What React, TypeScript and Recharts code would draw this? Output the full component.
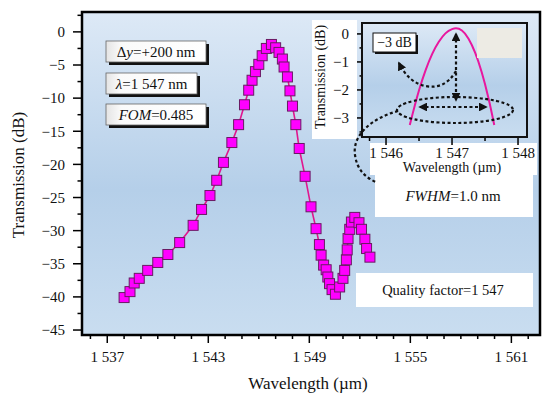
import React from "react";
import { CartesianGrid, Line, LineChart, XAxis, YAxis } from "recharts";

// main spectrum
const wavelength = [
  1538.0, 1538.35, 1538.6, 1538.9, 1539.4, 1540.0, 1540.6, 1541.3, 1542.1, 1542.6,
  1543.1, 1543.5, 1543.9, 1544.4, 1544.8, 1545.15, 1545.4, 1545.6, 1545.8, 1546.0,
  1546.2, 1546.45, 1546.75, 1547.0, 1547.2, 1547.4, 1547.5, 1547.7, 1547.85, 1548.0,
  1548.2, 1548.4, 1548.75, 1549.1, 1549.4, 1549.6, 1549.7, 1549.85, 1550.0, 1550.1,
  1550.2, 1550.35, 1550.55, 1550.8, 1551.0, 1551.1, 1551.2, 1551.25, 1551.3, 1551.4,
  1551.5, 1551.7, 1551.95, 1552.1, 1552.3, 1552.4, 1552.6,
];
const transmission = [
  -40.1, -39.2, -37.9, -37.2, -36.0, -34.8, -33.6, -31.8, -29.2, -26.8,
  -24.7, -22.4, -19.7, -16.7, -14.0, -11.0, -8.8, -7.3, -6.0, -4.9,
  -3.6, -2.5, -1.9, -2.4, -3.1, -4.1, -5.3, -6.8, -8.9, -11.2,
  -14.0, -17.6, -21.8, -26.4, -29.7, -32.1, -33.7, -35.2, -35.9, -37.0,
  -38.0, -38.9, -39.6, -38.5, -37.2, -36.0, -34.4, -32.9, -31.2, -29.8,
  -28.7, -28.0, -28.8, -29.8, -31.3, -32.7, -34.0,
];

// inset: zoom on the resonance peak
const insetWavelength = [
  1546.36, 1546.5, 1546.6, 1546.7, 1546.8, 1546.9, 1547.0, 1547.06,
  1547.15, 1547.25, 1547.35, 1547.45, 1547.55, 1547.64,
];
const insetTransmission = [
  -3.25, -2.01, -1.29, -0.71, -0.28, 0.02, 0.17, 0.2,
  0.12, -0.17, -0.67, -1.37, -2.27, -3.25,
];

const xMajor = [1537, 1543, 1549, 1555, 1561];
const yMajor = [0, -5, -10, -15, -20, -25, -30, -35, -40, -45];
const insetXMajor = [1546, 1547, 1548];
const insetYMajor = [0, -1, -2, -3];

const xTicks: number[] = [];
for (let v = 1536; v <= 1562; v++) xTicks.push(v);
const yTicks: number[] = [];
for (let v = 2.5; v >= -45; v -= 2.5) yTicks.push(v);
const insetXTicks = [1545.75, 1546, 1546.5, 1547, 1547.5, 1548];
const insetYTicks = [0, -0.5, -1, -1.5, -2, -2.5, -3, -3.5];

const mainData = wavelength.map((x, i) => ({ x, y: transmission[i] }));
const insetData = insetWavelength.map((x, i) => ({ x, y: insetTransmission[i] }));

const FONT = "'Liberation Serif', 'Times New Roman', serif";

const fmt = (v: number) => {
  const s = Math.abs(v).toString();
  const body = s.length === 4 ? s[0] + " " + s.slice(1) : s;
  return (v < 0 ? "\u2212" : "") + body;
};

function XTick(props: any) {
  const { x, y, payload, majors, size, dy } = props;
  const major = majors.includes(payload.value);
  return (
    <g>
      <line x1={x} x2={x} y1={y} y2={y + (major ? 8 : 4)} stroke="#000" strokeWidth={1.5} />
      {major && (
        <text x={x} y={y + dy} textAnchor="middle" fontFamily={FONT} fontSize={size} fill="#111">
          {fmt(payload.value)}
        </text>
      )}
    </g>
  );
}

function YTick(props: any) {
  const { x, y, payload, majors, size, len } = props;
  const major = majors.includes(payload.value);
  return (
    <g>
      <line x1={x} x2={x - (major ? len : len / 2)} y1={y} y2={y} stroke="#000" strokeWidth={1.5} />
      {major && (
        <text x={x - len - 8} y={y} dy="0.35em" textAnchor="end" fontFamily={FONT} fontSize={size} fill="#111">
          {fmt(payload.value)}
        </text>
      )}
    </g>
  );
}

const Square = (p: any) => (
  <rect
    key={p.index}
    x={p.cx - 5}
    y={p.cy - 5}
    width={10}
    height={10}
    fill="#ff00ff"
    stroke="#6a1a63"
    strokeWidth={1}
  />
);

function TextBox({ x, y, w, h, children }: any) {
  return (
    <g>
      <rect x={x + 3} y={y + 3} width={w} height={h} fill="#111" />
      <rect x={x} y={y} width={w} height={h} fill="url(#boxFill)" stroke="#666" strokeWidth={0.8} />
      <text x={x + w / 2} y={y + h / 2} dy="0.35em" textAnchor="middle" fontFamily={FONT} fontSize={15} fill="#111">
        {children}
      </text>
    </g>
  );
}

const bgStops = (
  <>
    <stop offset="0" stopColor="#dde9f6" />
    <stop offset="0.55" stopColor="#b5cfe9" />
    <stop offset="1" stopColor="#c9ddf0" />
  </>
);

export default function App() {
  return (
    <div style={{ position: "absolute", left: 0, top: 0, width: 543, height: 394, background: "#fff" }}>
      <LineChart width={543} height={394} data={mainData} margin={{ top: 12, right: 3, bottom: 0, left: 0 }}>
        <defs>
          <linearGradient id="bgMain" x1="0" y1="0" x2="0" y2="1">
            {bgStops}
          </linearGradient>
        </defs>
        <CartesianGrid horizontal={false} vertical={false} fill="url(#bgMain)" />
        <XAxis
          type="number"
          dataKey="x"
          domain={[1535.5, 1562.7]}
          ticks={xTicks}
          interval={0}
          height={59}
          tickSize={0}
          tickMargin={0}
          tickLine={false}
          axisLine={false}
          allowDataOverflow
          tick={(p: any) => <XTick {...p} majors={xMajor} size={15} dy={27} />}
        />
        <YAxis
          type="number"
          domain={[-45.75, 3]}
          ticks={yTicks}
          interval={0}
          width={82}
          tickSize={0}
          tickMargin={0}
          tickLine={false}
          axisLine={false}
          allowDataOverflow
          tick={(p: any) => <YTick {...p} majors={yMajor} size={15} len={9} />}
        />
        <Line
          type="linear"
          dataKey="y"
          stroke="#e0168f"
          strokeWidth={1.6}
          dot={Square}
          isAnimationActive={false}
        />
      </LineChart>

      {/* white panels behind the inset labels and notes */}
      <svg width={543} height={394} style={{ position: "absolute", left: 0, top: 0, pointerEvents: "none" }}>
        <rect x={312} y={20} width={45} height={119} fill="#fff" />
        <rect x={370} y={143} width={167} height={32} fill="#fff" />
        <rect x={375} y={175} width={158} height={42} fill="#fff" />
        <rect x={356} y={273} width={177} height={34} fill="#fff" />
      </svg>

      <div style={{ position: "absolute", left: 312, top: 20 }}>
        <LineChart width={228} height={180} data={insetData} margin={{ top: 3, right: 13, bottom: 0, left: 0 }}>
          <defs>
            <linearGradient id="bgInset" x1="0" y1="0" x2="0" y2="1">
              {bgStops}
            </linearGradient>
          </defs>
          <CartesianGrid horizontal={false} vertical={false} fill="url(#bgInset)" />
          <XAxis
            type="number"
            dataKey="x"
            domain={[1545.636, 1548.136]}
            ticks={insetXTicks}
            interval={0}
            height={63}
            tickSize={0}
            tickMargin={0}
            tickLine={false}
            axisLine={false}
            allowDataOverflow
            tick={(p: any) => <XTick {...p} majors={insetXMajor} size={15} dy={21} />}
          />
          <YAxis
            type="number"
            domain={[-3.68, 0.39]}
            ticks={insetYTicks}
            interval={0}
            width={50}
            tickSize={0}
            tickMargin={0}
            tickLine={false}
            axisLine={false}
            allowDataOverflow
            tick={(p: any) => <YTick {...p} majors={insetYMajor} size={15} len={5} />}
          />
          <Line
            type="monotone"
            dataKey="y"
            stroke="#e8179e"
            strokeWidth={2}
            dot={false}
            isAnimationActive={false}
          />
        </LineChart>
      </div>

      <svg width={543} height={394} style={{ position: "absolute", left: 0, top: 0, pointerEvents: "none" }}>
        <defs>
          <linearGradient id="boxFill" x1="0" y1="0" x2="1" y2="0">
            <stop offset="0" stopColor="#e4e4e4" />
            <stop offset="0.15" stopColor="#fafafa" />
            <stop offset="1" stopColor="#ffffff" />
          </linearGradient>
          <marker id="ah" viewBox="0 0 10 10" refX="8" refY="5" markerWidth="4" markerHeight="4" orient="auto-start-reverse">
            <path d="M0,0 L10,5 L0,10 z" fill="#111" />
          </marker>
        </defs>

        {/* frames */}
        <rect x={82} y={12} width={458} height={323} fill="none" stroke="#000" strokeWidth={2.5} />
        <rect x={362} y={23} width={165} height={114} fill="none" stroke="#111" strokeWidth={2} />
        <rect x={477} y={28} width={45} height={30} fill="#edebe4" />

        {/* axis titles */}
        <text x={308} y={389} textAnchor="middle" fontFamily={FONT} fontSize={17} fill="#111">
          Wavelength (µm)
        </text>
        <text
          transform="translate(24,175) rotate(-90)"
          textAnchor="middle"
          fontFamily={FONT}
          fontSize={17}
          fill="#111"
        >
          Transmission (dB)
        </text>
        <text x={452} y={172} textAnchor="middle" fontFamily={FONT} fontSize={14} fill="#111">
          Wavelength (µm)
        </text>
        <text
          transform="translate(325,77) rotate(-90)"
          textAnchor="middle"
          fontFamily={FONT}
          fontSize={14}
          fill="#111"
        >
          Transmission (dB)
        </text>

        {/* notes */}
        <TextBox x={106} y={41} w={100} h={21}>
          <tspan>Δ</tspan>
          <tspan fontStyle="italic">y</tspan>
          <tspan>=+200 nm</tspan>
        </TextBox>
        <TextBox x={106} y={73} w={91} h={21}>
          <tspan fontStyle="italic">λ</tspan>
          <tspan>=1 547 nm</tspan>
        </TextBox>
        <TextBox x={106} y={104} w={100} h={21}>
          <tspan fontStyle="italic">FOM</tspan>
          <tspan>=0.485</tspan>
        </TextBox>
        <text x={453} y={201} textAnchor="middle" fontFamily={FONT} fontSize={15} fill="#111">
          <tspan fontStyle="italic">FWHM</tspan>
          <tspan>=1.0 nm</tspan>
        </text>
        <text x={443} y={295} textAnchor="middle" fontFamily={FONT} fontSize={14.5} fill="#111">
          Quality factor=1 547
        </text>

        {/* -3 dB marker */}
        <rect x={375} y={35} width={43} height={19} fill="#111" />
        <rect x={373} y={33} width={43} height={19} fill="#fff" stroke="#111" strokeWidth={1} />
        <text x={394.5} y={42.5} dy="0.35em" textAnchor="middle" fontFamily={FONT} fontSize={14} fill="#111">
          {"\u22123 dB"}
        </text>

        <g fill="none" stroke="#111" strokeWidth={2.2} strokeDasharray="3 2.5">
          <ellipse cx={455} cy={110} rx={58} ry={13} />
          <line x1={456} y1={34} x2={456} y2={100} markerStart="url(#ah)" markerEnd="url(#ah)" />
          <line x1={420} y1={107} x2={486} y2={107} markerStart="url(#ah)" markerEnd="url(#ah)" />
          <path d="M456,71 Q445,90 425,86 Q408,82 399,63" markerEnd="url(#ah)" />
          <path d="M398,111 C372,118 352,135 355,155 C357,170 366,178 376,182" />
        </g>
      </svg>
    </div>
  );
}
